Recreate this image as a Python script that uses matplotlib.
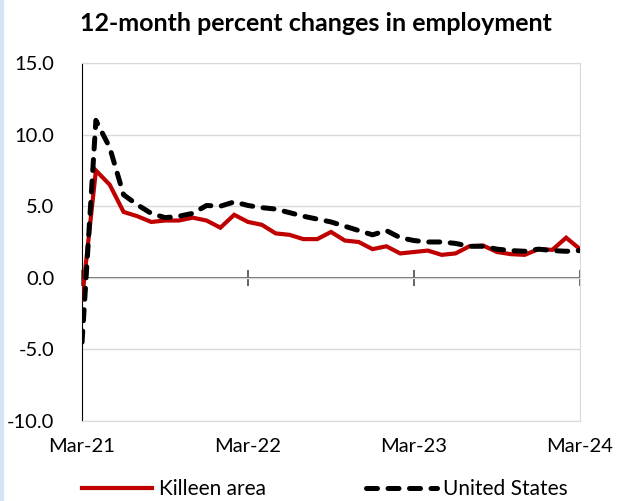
import numpy as np
import matplotlib.pyplot as plt
from matplotlib.patches import Rectangle

# monthly series, Mar-21 .. Mar-24
months = ['Mar-21', 'Apr-21', 'May-21', 'Jun-21', 'Jul-21', 'Aug-21', 'Sep-21', 'Oct-21', 'Nov-21',
          'Dec-21', 'Jan-22', 'Feb-22', 'Mar-22', 'Apr-22', 'May-22', 'Jun-22', 'Jul-22', 'Aug-22',
          'Sep-22', 'Oct-22', 'Nov-22', 'Dec-22', 'Jan-23', 'Feb-23', 'Mar-23', 'Apr-23', 'May-23',
          'Jun-23', 'Jul-23', 'Aug-23', 'Sep-23', 'Oct-23', 'Nov-23', 'Dec-23', 'Jan-24', 'Feb-24',
          'Mar-24']
killeen = [-1.5, 7.5, 6.5, 4.6, 4.3, 3.9, 4.0, 4.0, 4.2, 4.0, 3.5, 4.4, 3.9,
           3.7, 3.1, 3.0, 2.7, 2.7, 3.2, 2.6, 2.5, 2.0, 2.2, 1.7, 1.8,
           1.9, 1.6, 1.7, 2.2, 2.25, 1.8, 1.65, 1.6, 2.0, 1.95, 2.8, 2.0]
us = [-4.5, 11.0, 9.1, 5.8, 5.1, 4.5, 4.2, 4.3, 4.5, 5.05, 5.0, 5.3, 5.05,
      4.9, 4.8, 4.55, 4.3, 4.1, 3.9, 3.6, 3.3, 3.0, 3.3, 2.8, 2.6,
      2.5, 2.5, 2.4, 2.2, 2.2, 2.0, 1.9, 1.85, 2.0, 1.9, 1.85, 1.9]
xtick_labels = ['Mar-21', 'Mar-22', 'Mar-23', 'Mar-24']
yticks = [-10, -5, 0, 5, 10, 15]

plt.rcParams['font.family'] = ['Lato', 'DejaVu Sans']

fig = plt.figure(figsize=(6.17, 5.01), dpi=100)
ax = fig.add_axes([0.133, 0.160, 0.807, 0.714])

# thin blue strip on the left edge of the picture
fig.patches.append(Rectangle((0, 0), 0.005, 1, transform=fig.transFigure,
                             color='#d6e2f5', zorder=0))

x = np.arange(len(months))
ax.plot(x, killeen, color='#c00000', lw=3.0, solid_joinstyle='miter', label='Killeen area', zorder=3)
ax.plot(x, us, color='black', lw=3.6, ls=(0, (2.2, 2.1)), dash_capstyle='round',
        label='United States', zorder=4)

ax.set_xlim(0, len(months) - 1)
ax.set_ylim(-10, 15)
ax.set_yticks(yticks)
ax.set_yticklabels([f'{v:.1f}' for v in yticks])
ax.grid(axis='y', color='#d9d9d9', lw=1)
ax.set_axisbelow(True)

tick_pos = [months.index(m) for m in xtick_labels]
ax.set_xticks(tick_pos)
ax.set_xticklabels(xtick_labels)
ax.tick_params(axis='both', length=0, labelsize=14.5, colors='black')
ax.tick_params(axis='x', pad=12)
ax.tick_params(axis='y', pad=20)

for s in ['top', 'right', 'bottom']:
    ax.spines[s].set_color('#d9d9d9')
ax.spines['left'].set_color('black')

# zero line with crossing ticks
zero = ax.secondary_xaxis(10 / 25)
zero.set_xticks(tick_pos)
zero.set_xticklabels([])
zero.spines['bottom'].set_color('#595959')
zero.spines['bottom'].set_linewidth(1.3)
zero.tick_params(direction='inout', length=11, width=1.3, color='#595959')

ax.set_title('12-month percent changes in employment', fontsize=18, fontweight='bold',
             pad=23, x=0.47)

ax.legend(loc='center', bbox_to_anchor=(0.487, -0.19), ncol=2, frameon=False,
          fontsize=15, handlelength=3.4, handletextpad=0.3, columnspacing=4.8)

fig.savefig('out.png', dpi=100)
